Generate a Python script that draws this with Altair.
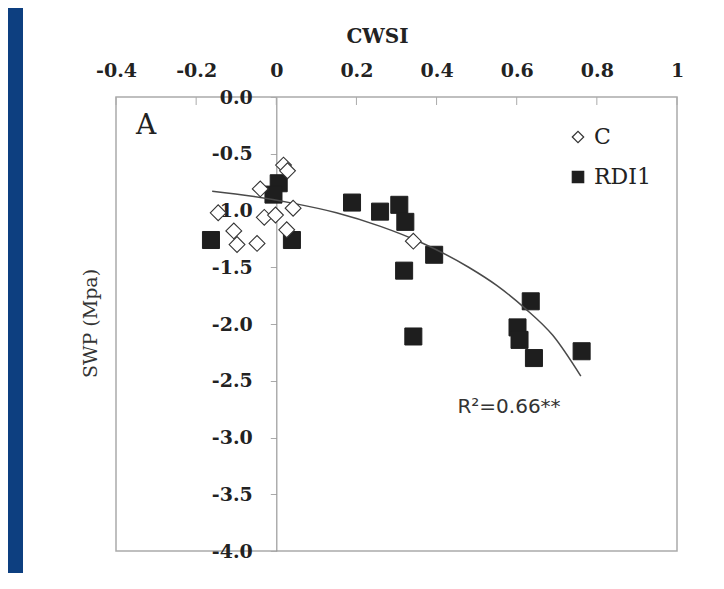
import altair as alt
import pandas as pd

# ---- data ----
series_names = ["C", "RDI1"]

c_x = [-0.145, -0.106, -0.098, -0.048, -0.040, -0.030, -0.002, 0.018, 0.028, 0.026, 0.042, 0.342]
c_y = [-1.02, -1.18, -1.30, -1.29, -0.81, -1.06, -1.04, -0.60, -0.65, -1.17, -0.98, -1.27]

rdi_x = [-0.163, 0.039, 0.006, -0.007, 0.189, 0.259, 0.307, 0.322, 0.394, 0.319, 0.342, 0.635, 0.602, 0.607, 0.643, 0.762]
rdi_y = [-1.26, -1.26, -0.76, -0.86, -0.93, -1.01, -0.95, -1.10, -1.39, -1.53, -2.11, -1.80, -2.03, -2.14, -2.30, -2.24]

curve_x = [-0.16, -0.06, 0.04, 0.15, 0.26, 0.36, 0.48, 0.55, 0.62, 0.69, 0.76]
curve_y = [-0.83, -0.875, -0.935, -1.02, -1.14, -1.28, -1.50, -1.66, -1.86, -2.10, -2.46]

x_ticks = [-0.4, -0.2, 0, 0.2, 0.4, 0.6, 0.8, 1]
x_tick_labels = ["-0.4", "-0.2", "0", "0.2", "0.4", "0.6", "0.8", "1"]
y_ticks = [0, -0.5, -1.0, -1.5, -2.0, -2.5, -3.0, -3.5, -4.0]
y_tick_labels = ["0.0", "-0.5", "-1.0", "-1.5", "-2.0", "-2.5", "-3.0", "-3.5", "-4.0"]

panel_label = ["A"]
r2_label = ["R\u00b2=0.66**"]

# ---- tables ----
rdi_df = pd.DataFrame({"x": rdi_x, "y": rdi_y, "s": [series_names[1]] * len(rdi_x)})
c_df = pd.DataFrame({"x": c_x, "y": c_y, "s": [series_names[0]] * len(c_x)})
curve = pd.DataFrame({"x": curve_x, "y": curve_y})
ticks_df = pd.DataFrame({"x": x_ticks})

W, H = 561, 454
SERIF = "DejaVu Serif"

x_lbl = "[" + ",".join("'%s'" % l for l in x_tick_labels) + "][round((datum.value + 0.4) / 0.2)]"
y_lbl = "[" + ",".join("'%s'" % l for l in y_tick_labels) + "][round(-datum.value / 0.5)]"

x_scale = alt.Scale(domain=[-0.4, 1], nice=False, zero=False)
y_scale = alt.Scale(domain=[-4, 0], nice=False, zero=False)

x_axis = alt.Axis(
    orient="top", values=x_ticks, labelExpr=x_lbl, ticks=False, tickSize=0, domain=False,
    grid=False, labelFont=SERIF, labelFontSize=19, labelFontWeight="bold", labelColor="#222",
    labelBaseline="alphabetic", labelPadding=21, labelFlush=False, labelOverlap=False,
    title="CWSI", titleX=261, titleY=-55, titleAlign="center", titleBaseline="alphabetic",
    titleFont=SERIF, titleFontSize=20, titleFontWeight="bold", titleColor="#222",
)
y_axis = alt.Axis(
    orient="left", offset=-160.3, values=y_ticks, labelExpr=y_lbl, domain=True,
    domainColor="#999", domainWidth=1.2, ticks=True, tickSize=6, tickColor="#aaa",
    labelPadding=18, labelFont=SERIF, labelFontSize=19, labelFontWeight="bold",
    labelColor="#222", labelAlign="right", labelBaseline="middle", labelFlush=False,
    labelOverlap=False, grid=False,
    title="SWP (Mpa)", titleX=-186, titleY=226, titleAngle=270, titleAlign="center",
    titleBaseline="middle", titleFont=SERIF, titleFontSize=19, titleFontWeight="normal",
    titleColor="#333",
)

X = alt.X("x:Q", scale=x_scale, axis=x_axis)
Y = alt.Y("y:Q", scale=y_scale, axis=y_axis)

legend = alt.Legend(
    orient="none", legendX=451, legendY=29, title=None, labelFont=SERIF, labelFontSize=22,
    labelColor="#222", symbolSize=130, symbolStrokeWidth=1.2,
    rowPadding=18, labelOffset=5, padding=0,
)
shape_scale = alt.Scale(domain=series_names, range=["diamond", "square"])
fill_scale = alt.Scale(domain=series_names, range=["white", "#1e1e1e"])
stroke_scale = alt.Scale(domain=series_names, range=["#333333", "#1e1e1e"])

navy = alt.Chart(pd.DataFrame({"a": [0]})).mark_rect(color="#0d3f80").encode(
    x=alt.value(-108), x2=alt.value(-93), y=alt.value(-89), y2=alt.value(H + 22)
)

tick_rules = alt.Chart(ticks_df).mark_rule(color="#aaa", strokeWidth=1).encode(
    x=X, y=alt.value(0), y2=alt.value(8)
)

line = alt.Chart(curve).mark_line(color="#4a4a4a", strokeWidth=1.5, interpolate="monotone").encode(
    x=X, y=Y
)


def point_layer(df, size, stroke_w):
    return alt.Chart(df).mark_point(
        opacity=1, fillOpacity=1, strokeWidth=stroke_w, size=size
    ).encode(
        x=X, y=Y,
        shape=alt.Shape("s:N", scale=shape_scale, legend=legend),
        fill=alt.Fill("s:N", scale=fill_scale, legend=legend),
        stroke=alt.Stroke("s:N", scale=stroke_scale, legend=legend),
    )


rdi_pts = point_layer(rdi_df, 290, 1.0)
c_pts = point_layer(c_df, 250, 1.1)

txt_a = alt.Chart(pd.DataFrame({"t": panel_label})).mark_text(
    font=SERIF, fontSize=28, color="#222", align="center", baseline="middle"
).encode(text="t:N", x=alt.value(30), y=alt.value(29))

txt_r2 = alt.Chart(pd.DataFrame({"t": r2_label})).mark_text(
    font="DejaVu Sans", fontSize=20, color="#333", align="center", baseline="middle"
).encode(text="t:N", x=alt.value(393), y=alt.value(310))

chart = alt.layer(navy, tick_rules, rdi_pts, line, c_pts, txt_a, txt_r2).properties(
    width=W, height=H,
    padding={"left": 108, "top": 89, "right": 37, "bottom": 22},
    autosize=alt.AutoSizeParams(type="none"),
    background="white",
).configure_view(stroke="#aaa", strokeWidth=1.5)

chart.save("out.html", embed_options={"renderer": "svg", "actions": False})
